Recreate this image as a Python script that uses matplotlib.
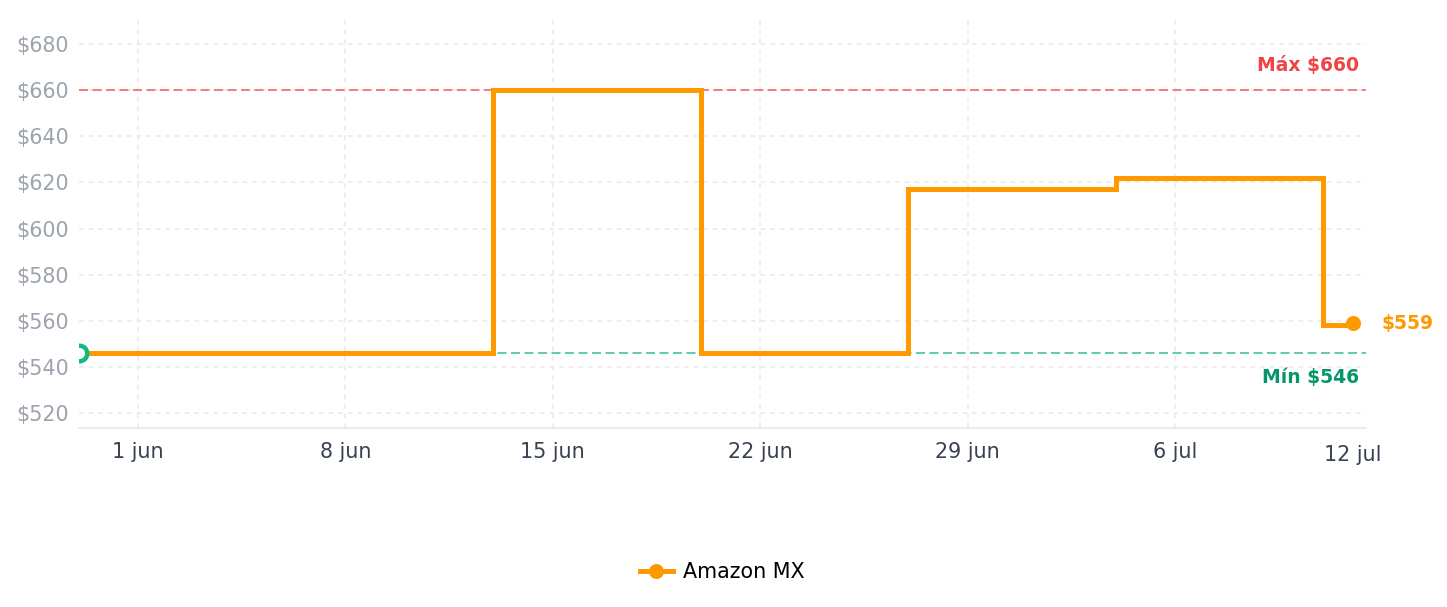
import datetime as dt
import matplotlib
matplotlib.use("Agg")
import matplotlib.pyplot as plt
import matplotlib.dates as mdates
from matplotlib.ticker import FuncFormatter

# --------- Datos ---------
fechas = ["2025-05-30", "2025-06-13", "2025-06-20", "2025-06-27",
          "2025-07-04", "2025-07-11", "2025-07-12"]
precios = [546, 660, 546, 617, 622, 558, 559]
tienda = "Amazon MX"
precio_max = 660
precio_min = 546
ticks_x = ["2025-06-01", "2025-06-08", "2025-06-15", "2025-06-22",
           "2025-06-29", "2025-07-06"]
ticks_y = [520, 540, 560, 580, 600, 620, 640, 660, 680]
meses = ["ene", "feb", "mar", "abr", "may", "jun",
         "jul", "ago", "sep", "oct", "nov", "dic"]

NARANJA = "#ff9900"
ROJO = "#ef4444"
VERDE = "#059669"

x = [dt.datetime.strptime(f, "%Y-%m-%d") for f in fechas]
xt = [dt.datetime.strptime(f, "%Y-%m-%d") for f in ticks_x]


def fecha_es(v, pos=None):
    d = mdates.num2date(v)
    return f"{d.day} {meses[d.month - 1]}"


fig = plt.figure(figsize=(1447 / 144, 607 / 144), dpi=144)
ax = fig.add_axes([78.5 / 1447, 1 - 428 / 607, (1366 - 78.5) / 1447, (428 - 15) / 607])

# Líneas de referencia
ax.axhline(precio_max, color="#f87171", lw=0.9, dashes=(5, 2.5), zorder=2)
ax.axhline(precio_min, color="#10b981", alpha=0.75, lw=0.9, dashes=(5, 2.5), zorder=2)

# Serie principal
ax.step(x, precios, where="post", color=NARANJA, lw=2.5, marker="o", ms=6.5,
        markevery=[len(x) - 1], label=tienda, zorder=3, solid_joinstyle="miter")

# Punto inicial (mínimo)
ax.plot(x[0], precios[0], "o", mfc="white", mec="#10b981", ms=7.8, mew=2.2, zorder=4)

# Anotaciones
ax.annotate(f"Máx ${precio_max}", xy=(1, precio_max), xycoords=("axes fraction", "data"),
            xytext=(-3.5, 12.5), textcoords="offset points", ha="right", va="center",
            color=ROJO, fontsize=9.4, fontweight="bold")
ax.annotate(f"Mín ${precio_min}", xy=(1, precio_min), xycoords=("axes fraction", "data"),
            xytext=(-3.5, -12), textcoords="offset points", ha="right", va="center",
            color=VERDE, fontsize=9.4, fontweight="bold")
ax.annotate(f"${precios[-1]}", xy=(x[-1], precios[-1]), xytext=(14, 0),
            textcoords="offset points", ha="left", va="center",
            color=NARANJA, fontsize=9.4, fontweight="bold", annotation_clip=False)
ax.annotate(fecha_es(mdates.date2num(x[-1])), xy=(x[-1], 0),
            xycoords=("data", "axes fraction"), xytext=(0, -13.5),
            textcoords="offset points", ha="center", va="center",
            color="#374151", fontsize=10.3, annotation_clip=False)

# Ejes
ax.set_xlim(x[0], x[-1] + dt.timedelta(hours=10.5))
ax.set_ylim(513.5, 692.6)
ax.set_xticks(xt)
ax.xaxis.set_major_formatter(FuncFormatter(fecha_es))
ax.set_yticks(ticks_y)
ax.yaxis.set_major_formatter(FuncFormatter(lambda v, p: f"${v:.0f}"))
ax.tick_params(axis="x", length=0, pad=7, labelsize=10.3, labelcolor="#374151")
ax.tick_params(axis="y", length=0, pad=5, labelsize=10.3, labelcolor="#9ca3af")
ax.grid(True, color="#ebebeb", lw=0.8, dashes=(3, 3))
ax.set_axisbelow(True)
for s in ["top", "right", "left"]:
    ax.spines[s].set_visible(False)
ax.spines["bottom"].set_color("#e5e7eb")
ax.spines["bottom"].set_linewidth(0.8)

fig.legend(loc="center", bbox_to_anchor=(722 / 1447, 1 - 572 / 607), frameon=False,
           fontsize=10.3, handlelength=1.6, handletextpad=0.5)

fig.savefig("out.png", dpi=144)
